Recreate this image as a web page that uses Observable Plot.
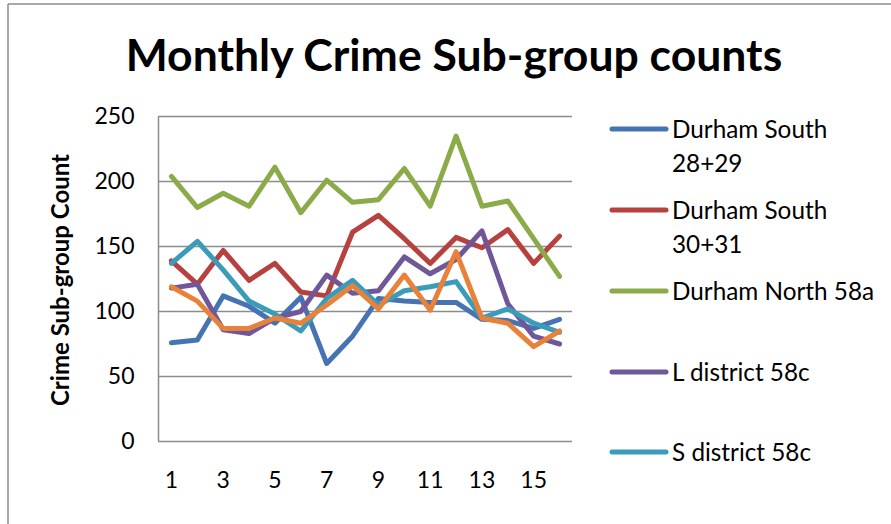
<!DOCTYPE html>
<html><head><meta charset="utf-8">
<script src="https://cdn.jsdelivr.net/npm/d3@7"></script>
<script src="https://cdn.jsdelivr.net/npm/@observablehq/plot@0.6"></script>
<style>body{margin:0;background:#fff}#chart svg{display:block}</style>
</head><body><div id="chart"></div>
<script>
const months = [1,2,3,4,5,6,7,8,9,10,11,12,13,14,15,16];
const xTickLabels = [1,3,5,7,9,11,13,15];
const yTicks = [0,50,100,150,200,250];
const seriesNames = ["Durham South 28+29","Durham South 30+31","Durham North 58a","L district 58c","S district 58c","Series 6"];
const legendLabels = [["Durham South","28+29"],["Durham South","30+31"],["Durham North 58a"],["L district 58c"],["S district 58c"]];
const seriesColors = ["#4674B2","#B7413E","#8BAA48","#70579A","#3B9CB9","#E8823A"];
const durhamSouth2829 = [76,78,112,104,91,111,60,81,110,108,107,107,94,93,87,94];
const durhamSouth3031 = [139,121,147,124,137,115,112,161,174,156,137,157,149,163,137,158];
const durhamNorth58a  = [204,180,191,181,211,176,201,184,186,210,181,235,181,185,156,127];
const lDistrict58c    = [118,121,86,83,95,100,128,114,116,142,129,140,162,106,81,75];
const sDistrict58c    = [137,154,132,108,98,85,110,124,105,116,119,123,95,102,91,84];
const series6         = [119,108,87,87,95,91,105,120,102,128,101,146,95,91,73,85];
const seriesValues = [durhamSouth2829,durhamSouth3031,durhamNorth58a,lDistrict58c,sDistrict58c,series6];

const rows = [];
seriesNames.forEach((name,si)=>months.forEach((m,i)=>rows.push({series:name,month:m,value:seriesValues[si][i]})));

const W = 891, H = 524;
const FONT = "Lato, 'Open Sans', sans-serif";
const plot = Plot.plot({
  width: W, height: H,
  marginLeft: 158, marginRight: 319, marginTop: 116, marginBottom: 83,
  style: {fontFamily: FONT, fontSize: "23px", color: "#000", background: "#fff", overflow: "visible"},
  x: {type: "linear", domain: [0.5, 16.5]},
  y: {domain: [0, 250]},
  color: {domain: seriesNames, range: seriesColors},
  marks: [
    Plot.ruleY(yTicks, {stroke: "#8c8c8c", strokeWidth: 1.5, strokeOpacity: 1}),
    Plot.ruleX([0.5], {stroke: "#8c8c8c", strokeWidth: 1.5, strokeOpacity: 1}),
    Plot.axisY({ticks: yTicks, tickSize: 0, tickPadding: 24, label: null, fontSize: 23}),
    Plot.axisX({ticks: xTickLabels, tickSize: 0, tickPadding: 30, label: null, fontSize: 23}),
    Plot.line(rows, {x: "month", y: "value", z: "series", stroke: "series", strokeWidth: 5, strokeLinejoin: "round", strokeLinecap: "round"})
  ]
});
document.getElementById("chart").appendChild(plot);

const svg = d3.select(plot);
// outer chart border (top and left visible)
svg.append("line").attr("x1",8).attr("x2",W).attr("y1",4).attr("y2",4).attr("stroke","#8c8c8c").attr("stroke-width",1.5);
svg.append("line").attr("x1",8).attr("x2",8).attr("y1",4).attr("y2",H).attr("stroke","#8c8c8c").attr("stroke-width",1.5);
// title
svg.append("text").attr("x",454).attr("y",71).attr("text-anchor","middle")
  .attr("font-family",FONT).attr("font-weight","bold").attr("font-size",44.5).attr("fill","#000")
  .text("Monthly Crime Sub-group counts");
// y label
svg.append("text").attr("transform","translate(69,280) rotate(-90)").attr("text-anchor","middle")
  .attr("font-family",FONT).attr("font-weight","bold").attr("font-size",24).attr("fill","#000")
  .text("Crime Sub-group Count");
// legend
const legendY = [129,210,291,372,452];
legendLabels.forEach((lines,i)=>{
  const g = svg.append("g");
  g.append("line").attr("x1",612).attr("x2",666).attr("y1",legendY[i]).attr("y2",legendY[i])
    .attr("stroke",seriesColors[i]).attr("stroke-width",5).attr("stroke-linecap","round");
  lines.forEach((t,j)=>{
    g.append("text").attr("x",672).attr("y",legendY[i]+9+j*34).attr("text-anchor","start")
      .attr("font-family",FONT).attr("font-size",24.3).attr("fill","#000").text(t);
  });
});
</script>
</body></html>
